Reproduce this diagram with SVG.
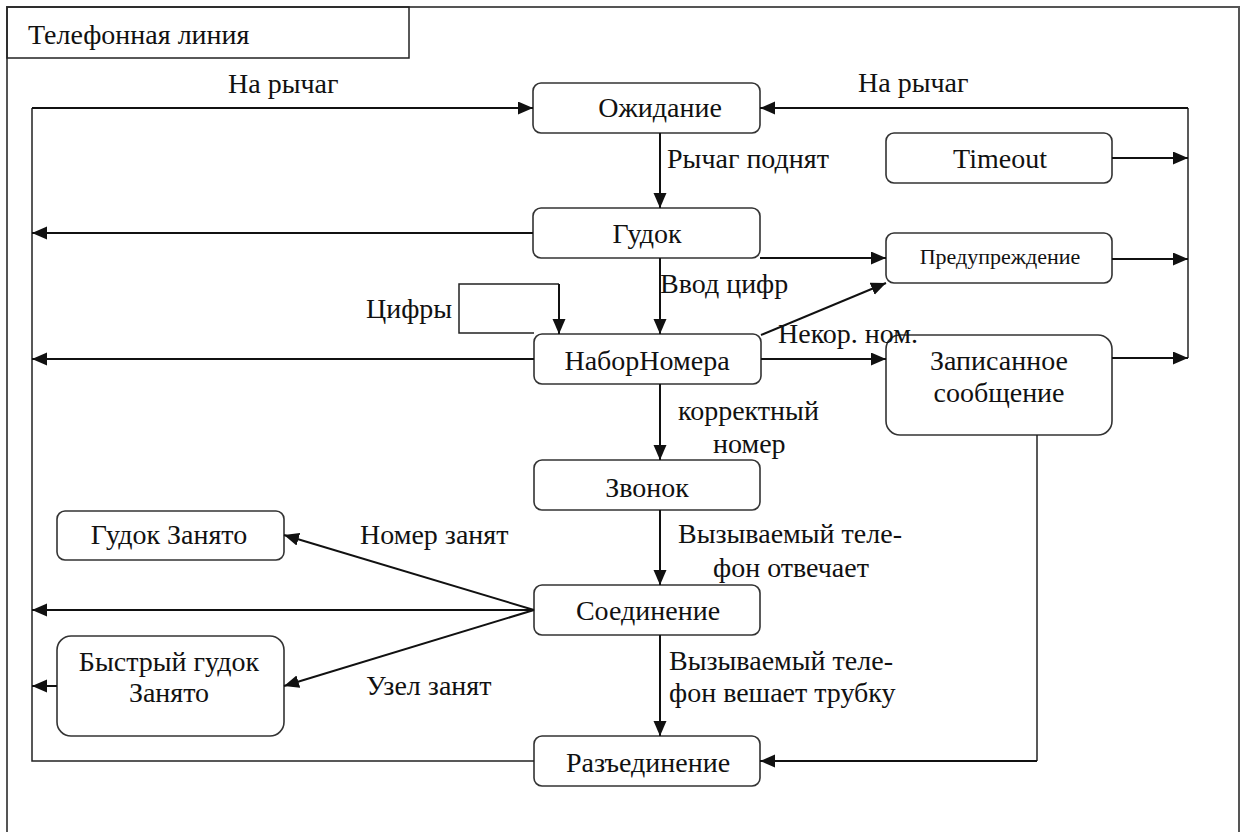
<svg xmlns="http://www.w3.org/2000/svg" width="1243" height="832" viewBox="0 0 1243 832">
<style>
text{font-family:'Liberation Serif',serif;font-size:28px;fill:#111}
.c{text-anchor:middle}
.sm{font-size:22px}
.box{fill:#fff;stroke:#333;stroke-width:1.6}
.ln{fill:none;stroke:#111;stroke-width:2}
.thin{fill:none;stroke:#222;stroke-width:1.5}
</style>
<defs>
<marker id="ah" markerUnits="userSpaceOnUse" markerWidth="16" markerHeight="14" refX="15" refY="6.5" orient="auto">
<path d="M0,0 L15,6.5 L0,13 z" fill="#111"/>
</marker>
</defs>
<rect width="1243" height="832" fill="#fff"/>
<g id="frame">
<path d="M7,840 V7 H1239 V840" fill="none" stroke="#555" stroke-width="2"/>
<rect x="7" y="7" width="402" height="51" fill="none" stroke="#222" stroke-width="1.5"/>
<text x="28" y="44">Телефонная линия</text>
</g>
<g id="n-ozhidanie"><rect class="box" x="533" y="83" width="227" height="50" rx="8"/><text class="c" x="660" y="117">Ожидание</text></g>
<g id="n-timeout"><rect class="box" x="886" y="133" width="226" height="50" rx="8"/><text class="c" x="1000" y="168">Timeout</text></g>
<g id="n-gudok"><rect class="box" x="533" y="208" width="227" height="50" rx="8"/><text class="c" x="647" y="243">Гудок</text></g>
<g id="n-preduprezhdenie"><rect class="box" x="886" y="233" width="226" height="50" rx="8"/><text class="c sm" x="1000" y="264">Предупреждение</text></g>
<g id="n-nabor"><rect class="box" x="534" y="334" width="227" height="50" rx="8"/><text class="c" x="647" y="370">НаборНомера</text></g>
<g id="n-zapisannoe"><rect class="box" x="886" y="335" width="226" height="100" rx="14"/><text class="c" x="999" y="370">Записанное</text><text class="c" x="999" y="402">сообщение</text></g>
<g id="n-zvonok"><rect class="box" x="534" y="460" width="226" height="50" rx="8"/><text class="c" x="647" y="497">Звонок</text></g>
<g id="n-soedinenie"><rect class="box" x="534" y="585" width="226" height="50" rx="8"/><text class="c" x="648" y="620">Соединение</text></g>
<g id="n-razedinenie"><rect class="box" x="534" y="736" width="226" height="50" rx="8"/><text class="c" x="648" y="772">Разъединение</text></g>
<g id="n-gudok-zanyato"><rect class="box" x="57" y="511" width="227" height="49" rx="8"/><text class="c" x="169" y="544">Гудок Занято</text></g>
<g id="n-bystry"><rect class="box" x="57" y="636" width="227" height="100" rx="14"/><text class="c" x="169" y="671">Быстрый гудок</text><text class="c" x="169" y="702">Занято</text></g>
<g id="connectors">
<path class="thin" d="M534,761 H32 V108"/>
<path class="ln" d="M32,108 H533" marker-end="url(#ah)"/>
<path class="thin" d="M1188,108 V358"/>
<path class="ln" d="M1188,108 H760" marker-end="url(#ah)"/>
<path class="ln" d="M1112,158 H1188" marker-end="url(#ah)"/>
<path class="ln" d="M1112,259 H1188" marker-end="url(#ah)"/>
<path class="ln" d="M1112,358 H1188" marker-end="url(#ah)"/>
<path class="thin" d="M1037,435 V761"/>
<path class="ln" d="M1037,761 H760" marker-end="url(#ah)"/>
<path class="ln" d="M660,133 V208" marker-end="url(#ah)"/>
<path class="ln" d="M533,233 H32" marker-end="url(#ah)"/>
<path class="ln" d="M760,258 H886" marker-end="url(#ah)"/>
<path class="ln" d="M660,258 V334" marker-end="url(#ah)"/>
<path class="thin" d="M534,333 H459 V284 H559"/>
<path class="ln" d="M559,284 V334" marker-end="url(#ah)"/>
<path class="ln" d="M534,359 H32" marker-end="url(#ah)"/>
<path class="ln" d="M761,335 L886,283" marker-end="url(#ah)"/>
<path class="ln" d="M761,359 H886" marker-end="url(#ah)"/>
<path class="ln" d="M660,384 V460" marker-end="url(#ah)"/>
<path class="ln" d="M660,510 V585" marker-end="url(#ah)"/>
<path class="ln" d="M534,610 H32" marker-end="url(#ah)"/>
<path class="ln" d="M534,610 L284,535" marker-end="url(#ah)"/>
<path class="ln" d="M534,610 L284,686" marker-end="url(#ah)"/>
<path class="ln" d="M57,686 H32" marker-end="url(#ah)"/>
<path class="ln" d="M660,635 V736" marker-end="url(#ah)"/>
<text x="228" y="93">На рычаг</text>
<text x="858" y="92">На рычаг</text>
<text x="667" y="168">Рычаг поднят</text>
<text x="660" y="293">Ввод цифр</text>
<text x="366" y="318">Цифры</text>
<text x="778" y="343">Некор. ном.</text>
<text x="678" y="420">корректный</text>
<text x="713" y="453">номер</text>
<text x="678" y="543">Вызываемый теле-</text>
<text x="713" y="577">фон отвечает</text>
<text x="669" y="670">Вызываемый теле-</text>
<text x="669" y="702">фон вешает трубку</text>
<text x="360" y="544">Номер занят</text>
<text x="366" y="695">Узел занят</text>
</g>
</svg>
